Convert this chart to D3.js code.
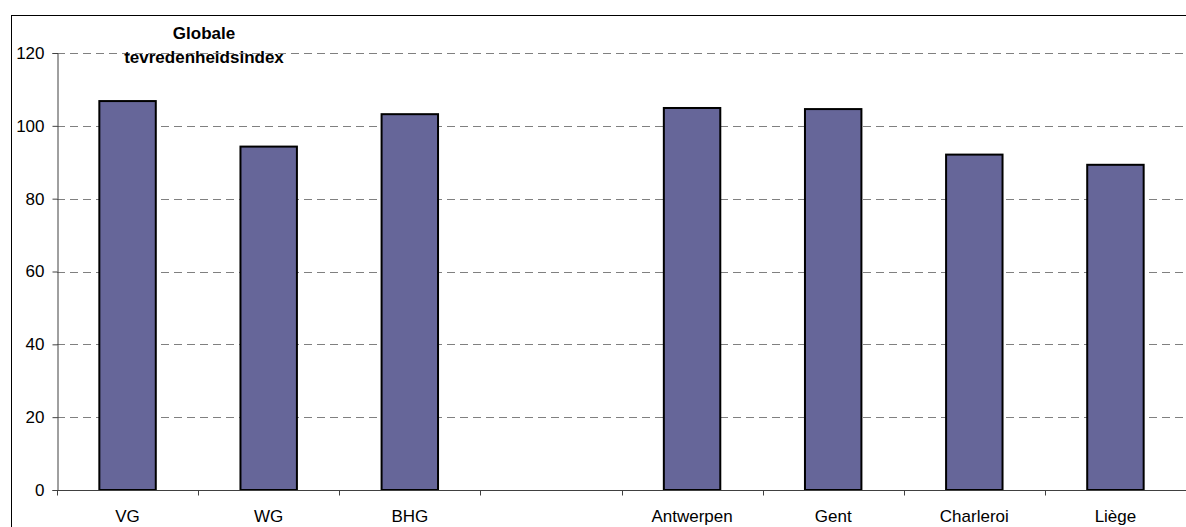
<!DOCTYPE html>
<html>
<head>
<meta charset="utf-8">
<script src="https://cdn.jsdelivr.net/npm/d3@7"></script>
<style>
  html, body { margin: 0; padding: 0; background: #fff; }
  svg { display: block; }
  text { font-family: "Liberation Sans", Arial, sans-serif; fill: #000; }
</style>
</head>
<body>
<svg id="chart" width="1186" height="527"></svg>
<script>
// Satisfaction index per region / city (empty slot separates the two groups)
const categories = ["VG", "WG", "BHG", "", "Antwerpen", "Gent", "Charleroi", "Liège"];
const values = [106.8, 94.3, 103.2, null, 104.9, 104.6, 92.1, 89.3];
const yTicks = [0, 20, 40, 60, 80, 100, 120];
const titleLines = ["Globale", "tevredenheidsindex"];

const svg = d3.select("#chart");
const margin = { left: 57, right: 0, top: 53, bottom: 37 };
const W = 1186, H = 527;
const fontSize = "17px";

// outer frame (runs off the right and bottom edges)
svg.append("rect")
  .attr("x", 11.5).attr("y", 15.5)
  .attr("width", W + 10).attr("height", H + 10)
  .attr("fill", "#fff").attr("stroke", "#000").attr("stroke-width", 1);

const x = d3.scaleBand()
  .domain(d3.range(categories.length))
  .range([margin.left, W - margin.right])
  .paddingInner(0.6).paddingOuter(0.3);

const xSlot = d3.scaleBand()
  .domain(d3.range(categories.length))
  .range([margin.left, W - margin.right]);

const y = d3.scaleLinear().domain([0, 120]).range([H - margin.bottom, margin.top]);

// dashed gridlines
svg.append("g")
  .selectAll("line")
  .data(yTicks.filter(d => d > 0))
  .join("line")
  .attr("x1", margin.left).attr("x2", W)
  .attr("y1", d => Math.round(y(d)) + 0.5).attr("y2", d => Math.round(y(d)) + 0.5)
  .attr("stroke", "#808080").attr("stroke-width", 1)
  .attr("stroke-dasharray", "8,5");

// bars
svg.append("g")
  .selectAll("rect")
  .data(values.map((v, i) => ({ v, i })).filter(d => d.v != null))
  .join("rect")
  .attr("x", d => x(d.i))
  .attr("y", d => y(d.v))
  .attr("width", x.bandwidth())
  .attr("height", d => y(0) - y(d.v))
  .attr("fill", "#666699")
  .attr("stroke", "#000")
  .attr("stroke-width", 2);

// y axis
const yAxis = svg.append("g")
  .attr("transform", `translate(${margin.left + 0.5},0)`)
  .call(d3.axisLeft(y).tickValues(yTicks).tickSize(5).tickPadding(8).tickFormat(d3.format("d")));
yAxis.select(".domain").attr("stroke", "#404040");
yAxis.selectAll(".tick line").attr("stroke", "#404040");
yAxis.selectAll("text").style("font-size", fontSize)
  .style("font-family", "'Liberation Sans', Arial, sans-serif").attr("fill", "#000");

// x axis with ticks at slot boundaries
const xg = svg.append("g").attr("transform", `translate(0,${Math.round(y(0)) + 0.5})`);
xg.append("line").attr("x1", margin.left).attr("x2", W).attr("stroke", "#404040");
xg.selectAll("line.tk")
  .data(d3.range(categories.length + 1))
  .join("line").attr("class", "tk")
  .attr("x1", i => Math.round(margin.left + i * xSlot.step()) + 0.5)
  .attr("x2", i => Math.round(margin.left + i * xSlot.step()) + 0.5)
  .attr("y1", 0).attr("y2", 5)
  .attr("stroke", "#404040");
xg.selectAll("text")
  .data(categories)
  .join("text")
  .attr("x", (d, i) => xSlot(i) + xSlot.bandwidth() / 2)
  .attr("y", 31)
  .attr("text-anchor", "middle")
  .style("font-size", fontSize)
  .text(d => d);

// title
svg.append("text")
  .attr("x", 204).attr("y", 39)
  .attr("text-anchor", "middle")
  .style("font-size", fontSize).style("font-weight", "bold")
  .selectAll("tspan")
  .data(titleLines)
  .join("tspan")
  .attr("x", 204)
  .attr("dy", (d, i) => i === 0 ? 0 : 24)
  .text(d => d);
</script>
</body>
</html>
